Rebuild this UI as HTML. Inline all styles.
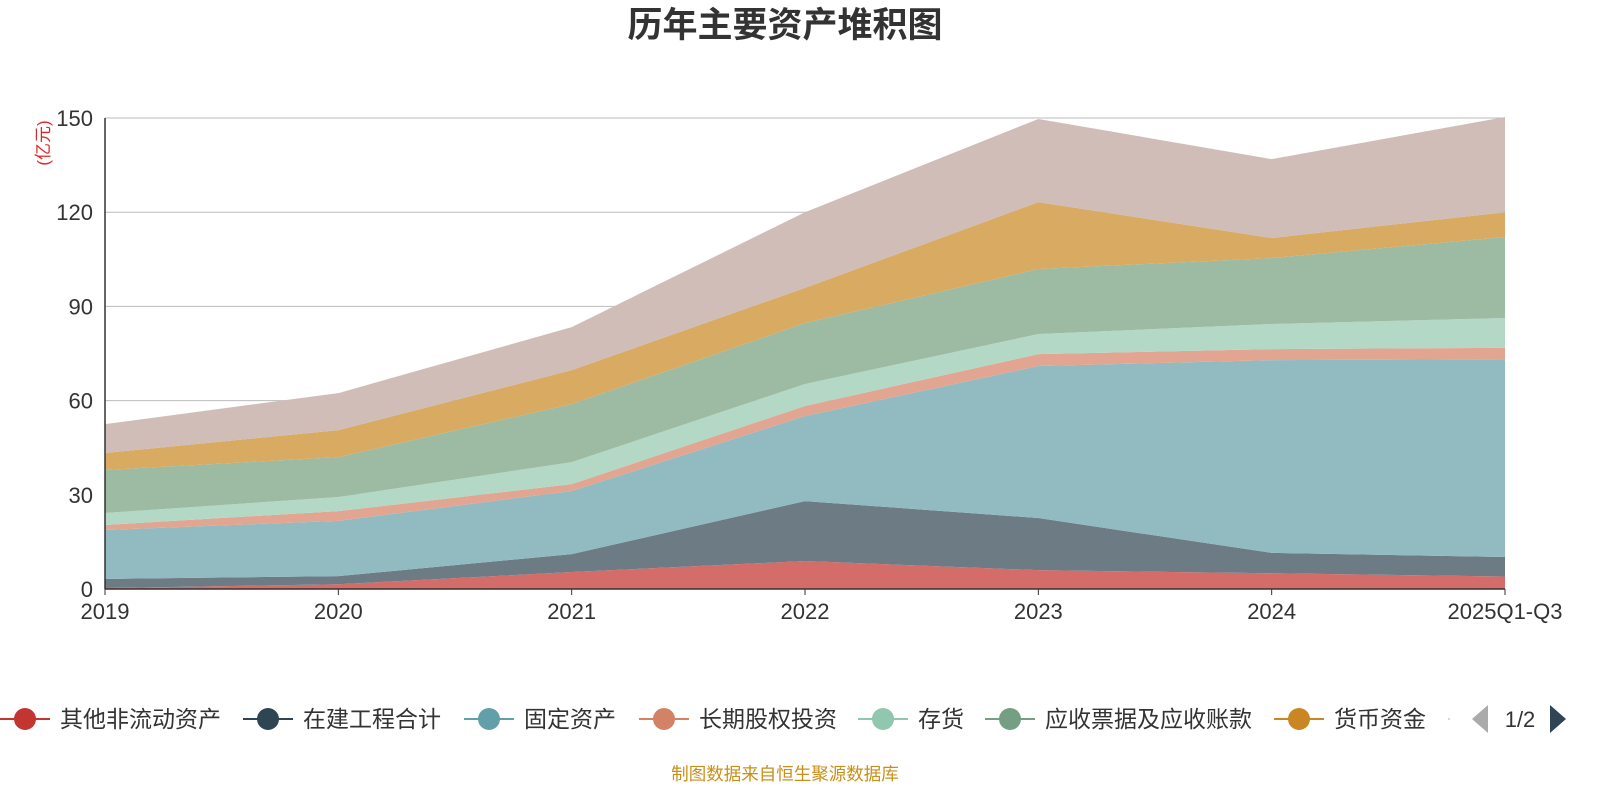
<!DOCTYPE html>
<html><head><meta charset="utf-8">
<style>
html,body{margin:0;padding:0;background:#fff;}
body{width:1600px;height:800px;overflow:hidden;font-family:"Liberation Sans","Noto Sans CJK SC",sans-serif;}
</style></head>
<body>
<svg id="chart" width="1600" height="800" xmlns="http://www.w3.org/2000/svg" font-family="Liberation Sans, Noto Sans CJK SC, sans-serif">
<text x="785" y="37" text-anchor="middle" font-size="35" font-weight="bold" fill="#333">历年主要资产堆积图</text>
<text transform="translate(49,143) rotate(-90)" text-anchor="middle" font-size="17" fill="#e0262a">(亿元)</text>
<g id="grid"></g>
<g id="areas"></g>
<g id="axes"></g>
<g id="legend"></g>
<text x="785" y="780" text-anchor="middle" font-size="17.5" fill="#c8901a">制图数据来自恒生聚源数据库</text>
</svg>
<script>
const categories = ["2019","2020","2021","2022","2023","2024","2025Q1-Q3"];
const seriesNames = ["其他非流动资产","在建工程合计","固定资产","长期股权投资","存货","应收票据及应收账款","货币资金","其他"];
const s1 = [0.3,1.5,5.4,8.9,6.0,5.0,4.0];
const s2 = [2.9,2.6,5.7,19.1,16.6,6.5,6.2];
const s3 = [15.6,17.6,20.1,27.1,48.4,61.4,63.0];
const s4 = [1.6,3.1,2.2,3.2,3.8,3.5,3.6];
const s5 = [3.8,4.5,7.0,7.0,6.4,8.0,9.5];
const s6 = [13.7,12.7,18.5,19.4,20.7,21.0,25.8];
const s7 = [5.4,8.6,10.8,11.2,21.3,6.4,7.9];
const s8 = [9.2,11.8,13.7,24.1,26.5,25.1,30.3];
const yTicks = [0,30,60,90,120,150];
const series = [s1,s2,s3,s4,s5,s6,s7,s8];
const fills = ["#d46d6a","#6d7b85","#91bbc1","#e1a591","#b3d8c6","#9dbaa3","#d8aa62","#d0bdb8"];
const lineCols = ["#c23531","#2f4554","#61a0a8","#d48265","#91c7ae","#749f83","#ca8622","#bda29a"];
const X0=105,X1=1505,Y0=589,Y1=118,YMAX=150;
const xs=i=>X0+(X1-X0)*i/(categories.length-1);
const ys=v=>Y0-(Y0-Y1)*v/YMAX;
const NS="http://www.w3.org/2000/svg";
function mk(tag,attrs,parent){const e=document.createElementNS(NS,tag);for(const k in attrs)e.setAttribute(k,attrs[k]);parent.appendChild(e);return e;}
const grid=document.getElementById('grid'),areas=document.getElementById('areas'),axes=document.getElementById('axes'),legend=document.getElementById('legend');
yTicks.forEach(t=>{
  if(t>0){const l=mk('line',{x1:X0,x2:X1,y1:ys(t),y2:ys(t),stroke:'#bbb','stroke-width':1},grid);
  
  }
  const tx=mk('text',{x:X0-12,y:ys(t)+8,'text-anchor':'end','font-size':22,fill:'#333'},axes);tx.textContent=t;
  
  
});
let cum=categories.map(()=>0);
series.forEach((s,k)=>{
  const lower=cum.slice();const upper=cum.map((c,i)=>c+s[i]);
  let d='M'+upper.map((v,i)=>xs(i)+','+ys(v)).join(' L');
  for(let i=categories.length-1;i>=0;i--)d+=' L'+xs(i)+','+ys(lower[i]);
  const p=mk('path',{d:d+'Z',fill:fills[k]},areas);
  
  
  cum=upper;
});
const ax=mk('line',{x1:X0,x2:X1,y1:Y0,y2:Y0,stroke:'#333','stroke-width':1.5},axes);


const ay=mk('line',{x1:X0,x2:X0,y1:Y1,y2:Y0,stroke:'#333','stroke-width':1.5},axes);


categories.forEach((c,i)=>{
  const tk=mk('line',{x1:xs(i),x2:xs(i),y1:Y0,y2:Y0+6,stroke:'#333'},axes);
  
  
  const t=mk('text',{x:xs(i),y:Y0+30,'text-anchor':'middle','font-size':22,fill:'#333'},axes);t.textContent=c;
  
  
});
const legX=[25,268,489,664,883,1010,1299];
for(let k=0;k<7;k++){
  const g=mk('g',{},legend);
  
  
  mk('line',{x1:legX[k]-25,x2:legX[k]+25,y1:719,y2:719,stroke:lineCols[k],'stroke-width':2},g);
  mk('circle',{cx:legX[k],cy:719,r:11,fill:lineCols[k]},g);
  const t=mk('text',{x:legX[k]+35,y:727,'font-size':23,fill:'#333'},g);t.textContent=seriesNames[k];
}
const dot=mk('circle',{cx:1449,cy:719,r:1,fill:'#ccc'},legend);


const pl=mk('path',{d:'M1488,705 L1472,719 L1488,733 Z',fill:'#aaa'},legend);


const pg=mk('text',{x:1520,y:727,'text-anchor':'middle','font-size':22,fill:'#333'},legend);pg.textContent='1/2';


const pr=mk('path',{d:'M1550,705 L1566,719 L1550,733 Z',fill:'#2f4554'},legend);


</script>
</body></html>
